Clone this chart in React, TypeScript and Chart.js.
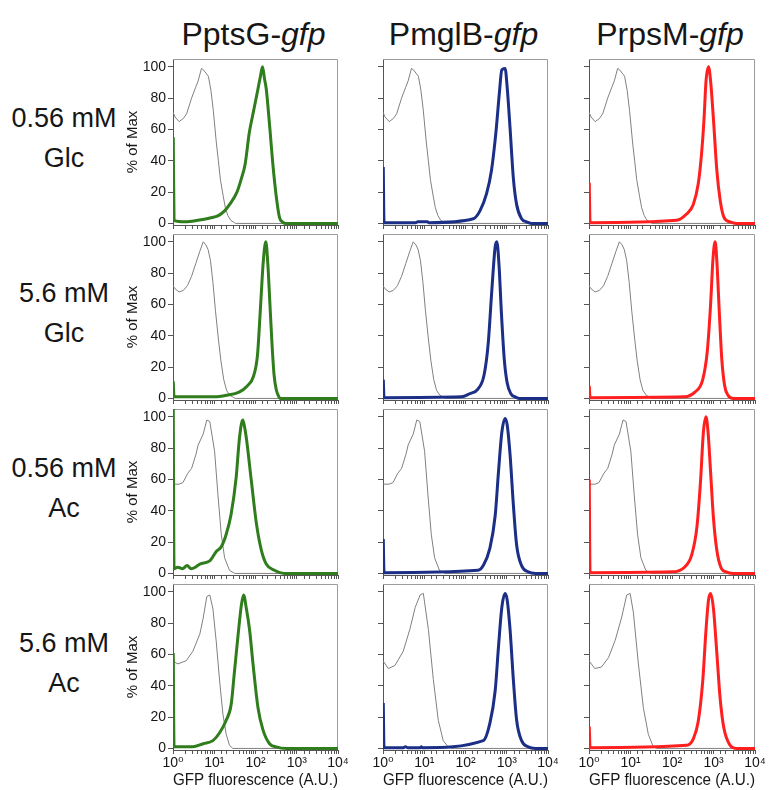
import React, { useEffect, useRef } from 'react';
import { Chart, registerables } from 'chart.js';

Chart.register(...registerables);

type Pt = [number, number];

// ---------- labels ----------
const PROMOTERS = ['PptsG', 'PmglB', 'PrpsM'];
const REPORTER = 'gfp';
const CONDITIONS: [string, string][] = [
  ['0.56 mM', 'Glc'],
  ['5.6 mM', 'Glc'],
  ['0.56 mM', 'Ac'],
  ['5.6 mM', 'Ac'],
];
const X_TICK_LABELS = ['10⁰', '10¹', '10²', '10³', '10⁴'];
const Y_TICKS = [0, 20, 40, 60, 80, 100];
const X_TITLE = 'GFP fluorescence (A.U.)';
const Y_TITLE = '% of Max';
const COLORS = ['#2f7d1c', '#1b2f86', '#ff1f1f'];
const CTRL_COLOR = '#808080';

// ---------- data: [GFP fluorescence (A.U.), % of Max] ----------
// unstained controls
const CTRL_GLC056: Pt[] = [[1, 71], [1.12, 68], [1.41, 65], [1.78, 67], [2.14, 70], [2.82, 80], [3.55, 87], [4.07, 91], [4.9, 99], [5.5, 98], [6.3, 96], [7.2, 94], [8.3, 85], [9.5, 72], [11.2, 52], [12.6, 40], [14.1, 28], [16.6, 17], [18.6, 10], [21.4, 5], [25.1, 2], [28.8, 1], [33, 0], [10000, 0]];
const CTRL_GLC56: Pt[] = [[1, 72], [1.12, 70], [1.41, 68], [1.78, 69], [2.24, 72], [2.82, 78], [3.55, 86], [4.47, 94], [5.4, 100], [6.3, 98], [7.1, 95], [8.1, 88], [9.3, 74], [10.7, 56], [12.6, 38], [14.5, 24], [17, 12], [20, 5], [24, 2], [28, 1], [32, 0], [10000, 0]];
const CTRL_AC056: Pt[] = [[1, 57], [1.12, 57], [1.41, 57], [1.74, 58], [2.29, 64], [2.82, 67], [3.6, 76], [4.07, 82], [5.4, 89], [6.6, 98], [7.8, 97], [10.2, 78], [12.3, 50], [14.8, 25], [17.8, 10], [23.4, 2], [31.6, 0], [10000, 0]];
const CTRL_AC56_A: Pt[] = [[1, 58], [1.1, 55], [1.32, 54], [2.09, 56], [3.02, 62], [4.47, 73], [5.37, 83], [6.6, 97], [7.8, 98], [9.3, 89], [11.2, 68], [13.5, 43], [16.2, 22], [19.5, 9], [23.4, 2], [28.2, 0], [10000, 0]];
const CTRL_AC56_B: Pt[] = [[1, 56], [1.35, 51], [1.95, 53], [3.09, 62], [4.47, 76], [6.03, 90], [7.94, 98], [9.5, 99], [12.6, 76], [16.6, 44], [21.9, 18], [28.8, 5], [38, 1], [45, 0], [10000, 0]];
const CTRL_AC56_C: Pt[] = [[1, 56], [1.38, 51], [2.0, 52], [2.95, 58], [4.27, 69], [6.17, 84], [8.1, 98], [9.8, 99], [11.7, 87], [15.5, 54], [20.4, 26], [26.9, 9], [35.5, 1], [43, 0], [10000, 0]];

// PptsG-gfp
const PTSG_GLC056: Pt[] = [[1.015, 55], [1.06, 2], [2, 1], [4, 2], [7.9, 3.5], [12.6, 5], [17.8, 8], [23.4, 12], [35.5, 20], [44.7, 28], [56.2, 38], [70.8, 58], [87, 70], [115, 86], [132, 94], [148, 100], [166, 92], [182, 86], [224, 60], [263, 38], [316, 18], [380, 4], [447, 1], [530, 0], [10000, 0]];
const PTSG_GLC56: Pt[] = [[1.015, 11], [1.06, 1], [10, 1], [20, 2], [40, 4], [63, 8], [89, 14], [112, 28], [132, 58], [155, 88], [178, 100], [200, 85], [224, 60], [251, 35], [282, 15], [316, 6], [355, 2], [400, 0], [10000, 0]];
const PTSG_AC056: Pt[] = [[1.015, 105], [1.06, 3], [1.3, 4], [1.7, 3], [2.2, 5], [2.75, 3], [3.5, 4], [4.47, 6], [7.76, 8], [11.2, 14], [14.8, 17], [19.5, 25], [25.7, 38], [33.9, 61], [40.7, 86], [49, 98], [53, 95], [60.3, 86], [79.4, 59], [105, 32], [138, 15], [182, 6], [288, 2], [500, 0], [10000, 0]];
const PTSG_AC56: Pt[] = [[1.015, 61], [1.06, 1], [3, 1], [5.4, 3], [9.3, 5], [13.5, 10], [19.5, 18], [25.7, 28], [30.9, 49], [38, 73], [45.7, 92], [51.3, 98], [60.3, 89], [72.4, 75], [87, 54], [115, 26], [151, 12], [219, 3], [316, 1], [560, 0], [10000, 0]];

// PmglB-gfp
const MGLB_GLC056: Pt[] = [[1.015, 36], [1.06, 0.5], [6, 0.5], [7, 1], [12, 1], [13, 0.5], [155, 3], [224, 8], [324, 19], [427, 34], [550, 59], [661, 83], [759, 98], [912, 99], [1023, 87], [1202, 61], [1445, 29], [1738, 12], [2291, 3], [3020, 1], [4000, 0], [10000, 0]];
const MGLB_GLC56: Pt[] = [[1.015, 12], [1.06, 0.5], [80, 1], [126, 3], [200, 6], [282, 15], [355, 35], [437, 70], [525, 97], [575, 100], [650, 85], [741, 55], [871, 25], [1023, 10], [1259, 3], [1585, 1], [2000, 0], [10000, 0]];
const MGLB_AC056: Pt[] = [[1.015, 22], [1.06, 0.5], [200, 2], [269, 5], [389, 16], [525, 37], [631, 65], [759, 90], [912, 99], [1023, 95], [1202, 76], [1445, 44], [1738, 18], [2291, 5], [3311, 1], [5000, 0], [10000, 0]];
const MGLB_AC56: Pt[] = [[1.015, 29], [1.06, 0.5], [3, 0.5], [3.5, 1], [4, 0.5], [8, 0.5], [8.5, 1], [9, 0.5], [269, 5], [389, 16], [525, 37], [631, 65], [759, 90], [912, 99], [1023, 95], [1202, 76], [1445, 44], [1738, 18], [2291, 5], [3311, 1], [5000, 0], [10000, 0]];

// PrpsM-gfp
const RPSM_GLC056: Pt[] = [[1.015, 26], [1.06, 0.5], [129, 2], [224, 6], [324, 12], [427, 25], [513, 44], [589, 66], [661, 91], [759, 100], [851, 91], [1000, 66], [1202, 34], [1445, 15], [1778, 4], [2512, 1], [3500, 0], [10000, 0]];
const RPSM_GLC56: Pt[] = [[1.015, 8], [1.06, 0.5], [200, 1], [355, 4], [550, 12], [708, 30], [851, 60], [977, 90], [1096, 100], [1202, 88], [1380, 55], [1585, 25], [1862, 8], [2239, 2], [3000, 0], [10000, 0]];
const RPSM_AC056: Pt[] = [[1.015, 60], [1.06, 0.5], [100, 1], [200, 4], [300, 12], [400, 30], [490, 60], [570, 90], [660, 100], [740, 90], [850, 65], [1000, 35], [1200, 15], [1500, 4], [2000, 1], [3000, 0], [10000, 0]];
const RPSM_AC56: Pt[] = [[1.015, 14], [1.06, 0.5], [224, 2], [324, 6], [427, 17], [550, 43], [661, 76], [759, 95], [851, 99], [1000, 89], [1202, 61], [1445, 32], [1778, 13], [2512, 2], [3500, 0], [10000, 0]];

const SAMPLES: Pt[][][] = [
  [PTSG_GLC056, MGLB_GLC056, RPSM_GLC056],
  [PTSG_GLC56, MGLB_GLC56, RPSM_GLC56],
  [PTSG_AC056, MGLB_AC056, RPSM_AC056],
  [PTSG_AC56, MGLB_AC56, RPSM_AC56],
];
const CONTROLS: Pt[][][] = [
  [CTRL_GLC056, CTRL_GLC056, CTRL_GLC056],
  [CTRL_GLC56, CTRL_GLC56, CTRL_GLC56],
  [CTRL_AC056, CTRL_AC056, CTRL_AC056],
  [CTRL_AC56_A, CTRL_AC56_B, CTRL_AC56_C],
];

// ---------- layout ----------
const FONT = "'Liberation Sans', Arial, Helvetica, 'DejaVu Sans', sans-serif";
const PAGE_W = 769;
const PAGE_H = 790;
const BOX_LEFT = [173, 383, 589];
const BOX_W = [165, 165, 166];
const BOX_TOP0 = 59;
const ROW_STEP = 175;
const BOX_H = 166;
const Y_MIN = -1;
const Y_MAX = 105;
const TEXT = '#161616';

Chart.defaults.font.family = FONT;

const frameTopRight = {
  id: 'frameTopRight',
  beforeDatasetsDraw(chart: any) {
    const { ctx, chartArea: a } = chart;
    ctx.save();
    ctx.strokeStyle = '#9c9c9c';
    ctx.lineWidth = 1;
    ctx.beginPath();
    ctx.moveTo(a.left, a.top + 0.5);
    ctx.lineTo(a.right - 0.5, a.top + 0.5);
    ctx.lineTo(a.right - 0.5, a.bottom);
    ctx.stroke();
    ctx.restore();
  },
};

function Panel({ row, col }: { row: number; col: number }) {
  const ref = useRef<HTMLCanvasElement>(null);
  const isBottom = row === CONDITIONS.length - 1;
  const isLeft = col === 0;
  const padL = isLeft ? 49 : 24;
  const padR = 14;
  const padT = 12;
  const boxTop = BOX_TOP0 + ROW_STEP * row;
  const boxBottom = boxTop + BOX_H;
  const padB = isBottom ? PAGE_H - boxBottom : 12;
  const left = BOX_LEFT[col] - padL;
  const top = boxTop - padT;
  const width = padL + BOX_W[col] + padR;
  const height = padT + BOX_H + padB;

  useEffect(() => {
    const chart = new Chart(ref.current as HTMLCanvasElement, {
      type: 'line',
      data: {
        datasets: [
          {
            data: SAMPLES[row][col].map(([x, y]) => ({ x, y })),
            borderColor: COLORS[col],
            borderWidth: 3,
            pointRadius: 0,
            cubicInterpolationMode: 'monotone',
            fill: false,
          },
          {
            data: CONTROLS[row][col].map(([x, y]) => ({ x, y })),
            borderColor: CTRL_COLOR,
            borderWidth: 1,
            pointRadius: 0,
            tension: 0,
            fill: false,
          },
        ],
      },
      options: {
        responsive: false,
        animation: false,
        devicePixelRatio: 1,
        events: [],
        layout: { padding: { left: 0, right: padR, top: padT, bottom: 0 } },
        plugins: { legend: { display: false }, tooltip: { enabled: false } },
        scales: {
          x: {
            type: 'logarithmic',
            position: 'bottom',
            min: 1,
            max: 10000,
            grid: { display: true, drawOnChartArea: false, drawTicks: true, tickLength: 4, color: '#555' },
            border: { display: true, color: '#555', width: 1 },
            ticks: {
              autoSkip: false,
              maxRotation: 0,
              minRotation: 0,
              padding: 1,
              color: TEXT,
              font: { size: 14, family: FONT },
              callback: (v: any) => {
                if (!isBottom) return '';
                const lg = Math.log10(Number(v));
                return Math.abs(lg - Math.round(lg)) < 1e-6 ? X_TICK_LABELS[Math.round(lg)] : '';
              },
            },
            title: {
              display: isBottom,
              text: X_TITLE,
              color: TEXT,
              font: { size: 16, family: FONT },
              padding: { top: 0, bottom: 0 },
            },
            afterFit: (s: any) => {
              s.height = padB;
            },
          },
          y: {
            type: 'linear',
            min: Y_MIN,
            max: Y_MAX,
            afterBuildTicks: (s: any) => {
              s.ticks = Y_TICKS.map((v) => ({ value: v }));
            },
            grid: { display: true, drawOnChartArea: false, drawTicks: true, tickLength: 5, color: '#555' },
            border: { display: true, color: '#555', width: 1 },
            ticks: {
              padding: 2,
              color: TEXT,
              font: { size: 14, family: FONT },
              callback: (v: any) => (isLeft ? String(v) : ''),
            },
            title: {
              display: isLeft,
              text: Y_TITLE,
              color: TEXT,
              font: { size: 15, family: FONT },
              padding: { top: 0, bottom: 0 },
            },
            afterFit: (s: any) => {
              s.width = padL;
            },
          },
        },
      } as any,
      plugins: [frameTopRight],
    });
    return () => chart.destroy();
  }, []);

  return (
    <canvas
      ref={ref}
      width={width}
      height={height}
      style={{ position: 'absolute', left, top, width, height }}
    />
  );
}

export default function App() {
  return (
    <div
      style={{
        position: 'absolute',
        left: 0,
        top: 0,
        width: PAGE_W,
        height: PAGE_H,
        background: '#fff',
        overflow: 'hidden',
        fontFamily: FONT,
        color: TEXT,
      }}
    >
      {PROMOTERS.map((p, c) => (
        <div
          key={p}
          style={{
            position: 'absolute',
            left: BOX_LEFT[c] + BOX_W[c] / 2 - 150 - 2,
            width: 300,
            top: 14,
            lineHeight: '40px',
            fontSize: 32,
            textAlign: 'center',
            whiteSpace: 'nowrap',
          }}
        >
          {p}-<i>{REPORTER}</i>
        </div>
      ))}
      {CONDITIONS.map(([a, b], r) => (
        <div
          key={r}
          style={{
            position: 'absolute',
            left: 0,
            width: 128,
            top: 98 + ROW_STEP * r,
            lineHeight: '40px',
            fontSize: 27,
            textAlign: 'center',
            whiteSpace: 'nowrap',
          }}
        >
          <div>{a}</div>
          <div>{b}</div>
        </div>
      ))}
      {CONDITIONS.map((_, r) =>
        PROMOTERS.map((_p, c) => <Panel key={`${r}-${c}`} row={r} col={c} />)
      )}
    </div>
  );
}
